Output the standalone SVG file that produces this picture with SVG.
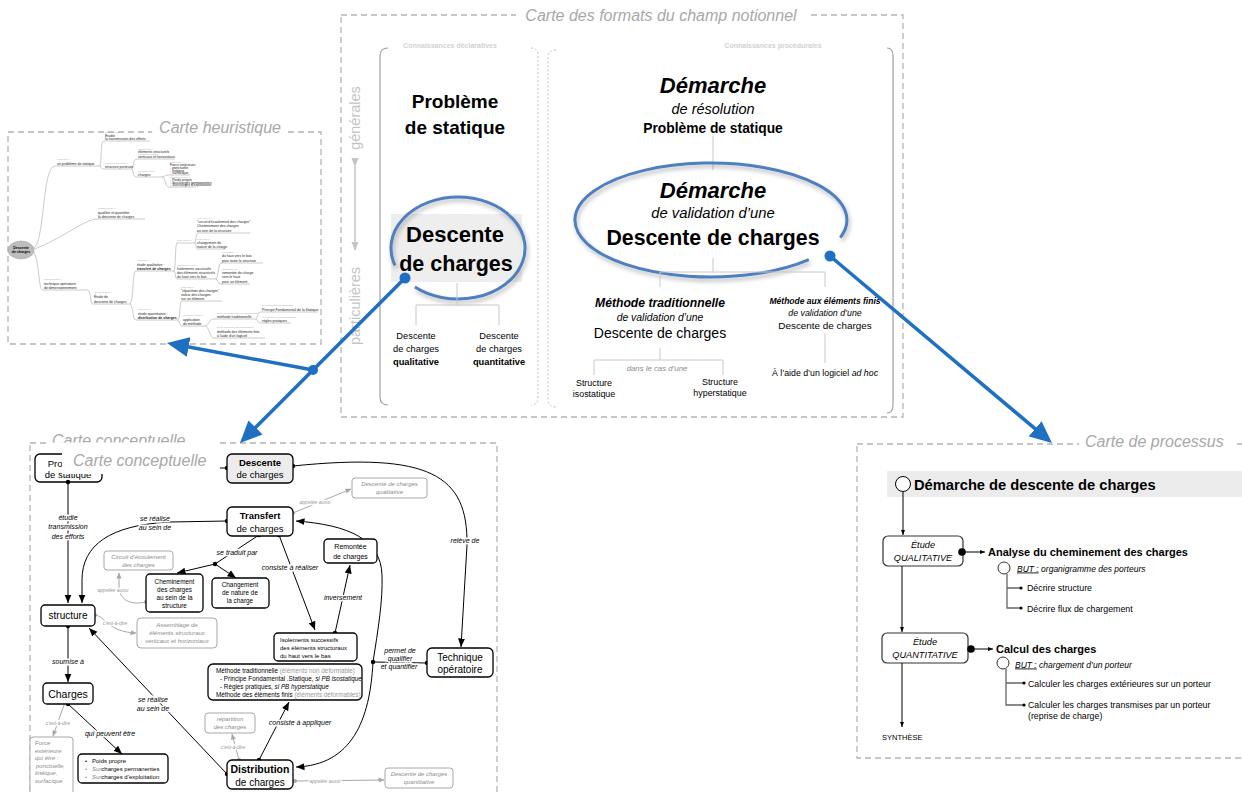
<svg xmlns="http://www.w3.org/2000/svg" width="1242" height="792" viewBox="0 0 1242 792">
<defs>
<style>
text{font-family:"Liberation Sans",Arial,sans-serif;}
.frame{fill:none;stroke:#b4b4b4;stroke-width:1.3;stroke-dasharray:6 4;}
.ftitle{font-style:italic;fill:#a8a8a8;font-size:16px;}
.c{text-anchor:middle;}
.b{font-weight:bold;}
.i{font-style:italic;}
.node{fill:#fff;stroke:#000;stroke-width:1.3;}
.gnode{fill:#fff;stroke:#a8a8a8;stroke-width:1;}
.gt{fill:#8c8c8c;font-style:italic;font-size:6px;}
.lbl{font-style:italic;font-size:7px;fill:#000;stroke:#fff;stroke-width:3;paint-order:stroke;stroke-linejoin:round;}
.glbl{font-style:italic;font-size:5px;fill:#9a9a9a;stroke:#fff;stroke-width:2.5;paint-order:stroke;stroke-linejoin:round;}
.conn{fill:none;stroke:#000;stroke-width:1;}
.gconn{fill:none;stroke:#a8a8a8;stroke-width:1;}
.tree{fill:none;stroke:#c8c8c8;stroke-width:1;}
.hm{font-size:3.5px;fill:#222;}
.hl{font-size:2.5px;fill:#aaa;}
.hline{fill:none;stroke:#a8a8a8;stroke-width:0.6;}
.blue{fill:none;stroke:#1F6FC2;stroke-width:3.5;}
.ptree{fill:none;stroke:#666;stroke-width:1.3;}
</style>
<marker id="arr" markerUnits="userSpaceOnUse" markerWidth="9" markerHeight="8" refX="8.5" refY="4" orient="auto" viewBox="0 0 9 8"><path d="M0,0.5 L8.5,4 L0,7.5z" fill="#000"/></marker>
<marker id="garr" markerUnits="userSpaceOnUse" markerWidth="6" markerHeight="6" refX="5.5" refY="3" orient="auto" viewBox="0 0 6 6"><path d="M0,0.5 L6,3 L0,5.5z" fill="#a8a8a8"/></marker>
<marker id="parr" markerUnits="userSpaceOnUse" markerWidth="5" markerHeight="5" refX="5" refY="2.5" orient="auto" viewBox="0 0 5 5"><path d="M0,0.5 L5,2.5 L0,4.5z" fill="#000"/></marker>
<marker id="varr" markerUnits="userSpaceOnUse" markerWidth="9" markerHeight="8" refX="8" refY="4" orient="auto" viewBox="0 0 9 8"><path d="M0,0.5 L9,4 L0,7.5z" fill="#c4c4c4"/></marker>
<marker id="barr" markerUnits="userSpaceOnUse" markerWidth="22" markerHeight="20" refX="16" refY="10" orient="auto" viewBox="0 0 22 20"><path d="M0,0 L22,10 L0,20z" fill="#1F6FC2"/></marker>
<filter id="sh" x="-20%" y="-20%" width="140%" height="160%"><feDropShadow dx="1.5" dy="3" stdDeviation="2.2" flood-color="#000" flood-opacity="0.28"/></filter>
<clipPath id="ct1"><rect x="0" y="420" width="320" height="22.5"/></clipPath>
</defs>
<rect width="1242" height="792" fill="#fff"/>

<!-- ============ CARTE DES FORMATS ============ -->
<g id="carte-formats">
<rect class="frame" x="341" y="15" width="562" height="402"/>
<rect x="516" y="4" width="292" height="22" fill="#fff"/>
<text class="ftitle c" x="661" y="21">Carte des formats du champ notionnel</text>

<g id="axe-vertical">
<text transform="translate(360,118) rotate(-90)" class="c" font-size="14.5" fill="#c4c4c4">générales</text>
<text transform="translate(360,306) rotate(-90)" class="c" font-size="14.5" fill="#c4c4c4">particulières</text>
<line x1="355" y1="166" x2="355" y2="250" stroke="#c4c4c4" stroke-width="1.5" marker-start="url(#varr)" marker-end="url(#varr)"/>
</g>

<g id="panel-declaratives">
<path d="M388,48 Q380,48 380,56 L380,397 Q380,405 388,405" fill="none" stroke="#a0a0a0" stroke-width="1.2"/>
<path d="M531,48 Q538,48 538,56 L538,397 Q538,405 531,405" fill="none" stroke="#c0c0c0" stroke-width="1" stroke-dasharray="2 2"/>
<text class="c b" x="450" y="48" font-size="7" fill="#d2d2d2">Connaissances déclaratives</text>
</g>

<g id="f-probleme">
<text class="c b" x="455" y="108" font-size="19">Problème</text>
<text class="c b" x="455" y="134" font-size="19">de statique</text>
</g>

<g id="f-descente">
<rect x="391" y="214" width="131" height="68" fill="#eeeeee"/>
<path d="M395,265.4 A67,51 0 1 1 414.9,287.1" fill="none" stroke="#4F7FBE" stroke-width="3" filter="url(#sh)"/>
<text class="c b" x="455" y="242" font-size="22">Descente</text>
<text class="c b" x="456" y="271" font-size="21.5">de charges</text>
<path class="tree" d="M457,283 V305 M416,325 V305 H499 V325"/>
</g>
<g id="f-qualitative">
<text class="c" x="416" y="339" font-size="9.3">Descente</text>
<text class="c" x="416" y="352" font-size="9.3">de charges</text>
<text class="c b" x="416" y="365" font-size="9.3">qualitative</text>
</g>
<g id="f-quantitative">
<text class="c" x="499" y="339" font-size="9.3">Descente</text>
<text class="c" x="499" y="352" font-size="9.3">de charges</text>
<text class="c b" x="499" y="365" font-size="9.3">quantitative</text>
</g>

<g id="panel-procedurales">
<path d="M556,50 Q548,50 548,58 L548,399 Q548,407 556,407" fill="none" stroke="#c0c0c0" stroke-width="1" stroke-dasharray="2 2"/>
<path d="M887,48 Q893,48 893,56 L893,405 Q893,413 887,413" fill="none" stroke="#a0a0a0" stroke-width="1.2"/>
<text class="c b" x="773" y="48" font-size="7" fill="#d2d2d2">Connaissances procédurales</text>
</g>

<g id="f-demarche-resolution">
<text class="c b i" x="713" y="93" font-size="22">Démarche</text>
<text class="c i" x="713" y="114" font-size="14.5">de résolution</text>
<text class="c b" x="713" y="133" font-size="13.8">Problème de statique</text>
<path class="tree" d="M713,136 V170"/>
</g>

<g id="f-demarche-validation">
<path d="M808.8,259.6 A136,57 0 1 1 840.3,237.6" fill="none" stroke="#4F7FBE" stroke-width="3" filter="url(#sh)"/>
<text class="c b i" x="713" y="198" font-size="22">Démarche</text>
<text class="c i" x="713" y="218" font-size="14.8">de validation d’une</text>
<text class="c b" x="713" y="245" font-size="21.3">Descente de charges</text>
<path class="tree" d="M713,258 V272 M660,287 V272 H825 V287"/>
</g>

<g id="f-methode-traditionnelle">
<text class="c b i" x="660" y="307" font-size="12.2">Méthode traditionnelle</text>
<text class="c i" x="660" y="321" font-size="10.4">de validation d’une</text>
<text class="c" x="660" y="338" font-size="14">Descente de charges</text>
<path class="tree" d="M660,348 V360 M594,375 V360 H723 V375"/>
<text class="c i" x="657" y="371" font-size="7.8" fill="#8c8c8c">dans le cas d’une</text>
</g>
<g id="f-isostatique">
<text class="c" x="594" y="386" font-size="8.9">Structure</text>
<text class="c" x="594" y="397" font-size="8.9">isostatique</text>
</g>
<g id="f-hyperstatique">
<text class="c" x="720" y="385" font-size="8.9">Structure</text>
<text class="c" x="720" y="396" font-size="8.9">hyperstatique</text>
</g>
<g id="f-methode-ef">
<text class="c b i" x="825" y="304" font-size="8.5">Méthode aux éléments finis</text>
<text class="c i" x="825" y="316" font-size="8.8">de validation d’une</text>
<text class="c" x="825" y="329" font-size="9.9">Descente de charges</text>
<path class="tree" d="M825,333 V363"/>
<text class="c" x="825" y="376" font-size="8.8">À l’aide d’un logiciel <tspan class="i">ad hoc</tspan></text>
</g>
</g>

<!-- ============ CARTE HEURISTIQUE ============ -->
<g id="carte-heuristique">
<rect class="frame" x="8" y="132" width="313" height="212"/>
<rect x="152" y="118" width="136" height="20" fill="#fff"/>
<text class="ftitle c" x="220" y="133">Carte heuristique</text>

<g id="h-branches">
<path class="hline" d="M34,248 C45,240 42,166 55,166 L100,166"/>
<path class="hline" d="M100,166 C102,160 100,141 104,141 L150,141"/>
<path class="hline" d="M100,166 C101,168 102,169 104,169 L132,169"/>
<path class="hline" d="M132,169 C134,165 133,159 137,159 L175,159"/>
<path class="hline" d="M132,169 C134,173 133,177 137,177 L162,177"/>
<path class="hline" d="M162,177 C166,176 165,175 169,175 L190,175"/>
<path class="hline" d="M162,177 C166,178 165,187 169,187 L196,187"/>
<path class="hline" d="M34,249 C60,240 85,219 97,219 L145,219"/>
<path class="hline" d="M34,252 C40,265 38,290 43,290 L88,290"/>
<path class="hline" d="M88,290 C91,292 90,304 93,304 L130,304"/>
<path class="hline" d="M130,304 C134,300 132,271 136,271 L174,271"/>
<path class="hline" d="M174,271 C176,268 175,243 177,243 L195,243"/>
<path class="hline" d="M195,243 C196,240 196,233 198,233 L250,233"/>
<path class="hline" d="M195,243 C196,245 196,249 198,249 L226,249"/>
<path class="hline" d="M174,271 C176,273 175,279 177,279 L216,279"/>
<path class="hline" d="M216,279 C219,276 218,263 221,263 L263,263"/>
<path class="hline" d="M216,279 C219,282 218,284 221,284 L250,284"/>
<path class="hline" d="M130,304 C134,308 132,320 136,320 L178,320"/>
<path class="hline" d="M178,320 C181,316 179,301 182,301 L222,301"/>
<path class="hline" d="M178,320 C180,322 180,326 182,326 L206,326"/>
<path class="hline" d="M206,326 C210,322 210,319 214,319 L256,319"/>
<path class="hline" d="M256,319 C258,316 258,312 261,312 L318,312"/>
<path class="hline" d="M256,319 C258,321 258,323 261,323 L291,323"/>
<path class="hline" d="M206,326 C210,330 210,338 214,338 L265,338"/>
</g>
<g id="h-centre">
<ellipse cx="21" cy="250" rx="13" ry="9" fill="#bdbdbd" stroke="#999" stroke-width="0.5"/>
<text class="c b" x="21" y="249" font-size="3.5">Descente</text>
<text class="c b" x="21" y="253" font-size="3.5">de charges</text>
</g>
<g id="h-textes">
<text class="hl" x="57" y="160">c'est quoi ?</text>
<text class="hm" x="57" y="165">un problème de statique</text>
<text class="hl" x="105" y="133">qui est étudié ?</text>
<text class="hm" x="105" y="136.5">Etudie</text>
<text class="hm" x="105" y="140.3">la transmission des efforts</text>
<text class="hl" x="105" y="164">qu'est-ce qui porte ?</text>
<text class="hm" x="105" y="168">structure porteuse</text>
<text class="hl" x="138" y="149.5">qui sont-ils ?</text>
<text class="hm" x="138" y="152.7">éléments structurels</text>
<text class="hl" x="138" y="155.3">qui sont-ils aussi ?</text>
<text class="hm" x="138" y="158.3">verticaux et horizontaux</text>
<text class="hl" x="138" y="172">qui sont-elles ?</text>
<text class="hm" x="138" y="176">charges</text>
<text class="hl" x="170" y="163">lesquelles ?</text>
<text class="hm" x="170" y="166" font-size="2.8">Force extérieure</text>
<text class="hm" x="170" y="168.8" font-size="2.8">- ponctuelle</text>
<text class="hm" x="170" y="171.6" font-size="2.8">- linéique</text>
<text class="hm" x="170" y="174.4" font-size="2.8">- surfacique</text>
<text class="hl" x="170" y="178">qui peuvent être ?</text>
<text class="hm" x="170" y="181" font-size="2.8">- Poids propre</text>
<text class="hm" x="170" y="183.7" font-size="2.8">- Surcharges permanentes</text>
<text class="hm" x="170" y="186.4" font-size="2.8">- Surcharges d'exploitation</text>
<text class="hl" x="98" y="209">pourquoi faire ?</text>
<text class="hm" x="98" y="213.5">qualifier et quantifier</text>
<text class="hm" x="98" y="218">la descente de charges</text>
<text class="hl" x="44" y="280">comment faire ?</text>
<text class="hm" x="44" y="284.5">technique opératoire</text>
<text class="hm" x="44" y="289">de dimensionnement</text>
<text class="hl" x="94" y="293">comment faire ?</text>
<text class="hm" x="94" y="298">Étude de</text>
<text class="hm" x="94" y="302.5">descente de charges</text>
<text class="hl" x="137" y="261">c'est quoi ?</text>
<text class="hm" x="137" y="265.5">étude qualitative :</text>
<text class="hm b" x="137" y="270">transfert de charges</text>
<text class="hl" x="177" y="241">c'est-à-dire ?</text>
<text class="hl" x="197" y="219">c'est quoi ?</text>
<text class="hm" x="197" y="223">"circuit d'écoulement des charges"</text>
<text class="hm" x="197" y="227.2">Cheminement des charges</text>
<text class="hm" x="197" y="231.5">au sein de la structure</text>
<text class="hl" x="197" y="239.5">c'est quoi ?</text>
<text class="hm" x="197" y="244">changement de</text>
<text class="hm" x="197" y="248">nature de la charge</text>
<text class="hl" x="177" y="266">comment le faire ?</text>
<text class="hm" x="177" y="269.7">Isolements successifs</text>
<text class="hm" x="177" y="273.7">des éléments structurels</text>
<text class="hm" x="177" y="278">du haut vers le bas</text>
<text class="hl" x="222" y="253">en général</text>
<text class="hm" x="222" y="257">du haut vers le bas</text>
<text class="hm" x="222" y="261.5">pour toute la structure</text>
<text class="hl" x="222" y="270">cas particulier</text>
<text class="hm" x="222" y="274">remontée de charge</text>
<text class="hm" x="222" y="278">vers le haut</text>
<text class="hm" x="222" y="282.5">pour un élément</text>
<text class="hl" x="138" y="310">c'est quoi ?</text>
<text class="hm" x="138" y="314.5">étude quantitative :</text>
<text class="hm b" x="138" y="319">distribution de charges</text>
<text class="hl" x="181" y="288">c'est quoi ?</text>
<text class="hm" x="181" y="292">"répartition des charges"</text>
<text class="hm" x="181" y="296">valeur des charges</text>
<text class="hm" x="181" y="300">sur un élément</text>
<text class="hl" x="183" y="316">comment le faire ?</text>
<text class="hm" x="183" y="320.5">application</text>
<text class="hm" x="183" y="325">de méthode</text>
<text class="hl" x="217" y="314">si les éléments sont non déformables</text>
<text class="hm" x="217" y="318">méthode traditionnelle</text>
<text class="hl" x="262" y="306">si la structure est isostatique</text>
<text class="hm" x="262" y="310.5">Principe Fondamental de la Statique</text>
<text class="hl" x="262" y="317.5">si la structure est hyperstatique</text>
<text class="hm" x="262" y="322">règles pratiques</text>
<text class="hl" x="217" y="328">si les éléments sont déformables</text>
<text class="hm" x="217" y="332.5">méthode des éléments finis</text>
<text class="hm" x="217" y="337">à l'aide d'un logiciel</text>
</g>
</g>

<!-- ============ CARTE CONCEPTUELLE ============ -->
<g id="carte-conceptuelle">
<rect class="frame" x="30" y="443" width="467" height="352"/>
<rect x="47" y="425" width="172" height="20" fill="#fff"/>
<text class="ftitle" x="52" y="446" clip-path="url(#ct1)">Carte conceptuelle</text>
</g>

<g id="c-probleme">
<rect class="node" x="35" y="454" width="67" height="28" rx="5"/>
<text class="c" x="68" y="467" font-size="9.5">Problème</text>
<text class="c" x="68" y="478" font-size="9.5">de statique</text>
</g>
<g id="c-titre">
<rect x="62" y="449" width="146" height="25" fill="#fff"/>
<text class="ftitle" x="73" y="466">Carte conceptuelle</text>
</g>

<g id="concept-connectors">
<!-- Problème -> structure -->
<path class="conn" d="M68,482 V603" marker-end="url(#arr)"/>
<!-- Transfert -> structure -->
<path class="conn" d="M227,521 L170,522 C110,525 82,545 82,580 L82,603" marker-end="url(#arr)"/>
<!-- Transfert -> jonction -->
<path class="conn" d="M259,535 L215,564"/>
<path class="conn" d="M215,564 L177,573" marker-end="url(#arr)"/>
<path class="conn" d="M215,564 L236,578" marker-end="url(#arr)"/>
<!-- Transfert -> Isolements -->
<path class="conn" d="M279,535 L315,630" marker-end="url(#arr)"/>
<!-- Isolements -> Remontée -->
<path class="conn" d="M335,633 L350,565" marker-end="url(#arr)"/>
<!-- Descente -> Technique -->
<path class="conn" d="M227,468 H220"/>
<path class="conn" d="M293,466 C430,452 468,475 467,545 L461,647" marker-end="url(#arr)"/>
<!-- Distribution <-> Transfert -->
<path class="conn" d="M373,662 C378,630 383,600 382,575 C381,540 350,525 296,521" marker-end="url(#arr)"/>
<path class="conn" d="M373,662 C370,720 352,765 296,767" marker-end="url(#arr)"/>
<path class="conn" d="M373,662 L427,663"/>
<!-- structure -> Charges -->
<path class="conn" d="M68,626 V682" marker-end="url(#arr)"/>
<!-- Charges -> Poids -->
<path class="conn" d="M68,704 L122,754" marker-end="url(#arr)"/>
<!-- Distribution -> structure -->
<path class="conn" d="M227,774 L89,628" marker-end="url(#arr)"/>
<!-- Distribution -> Méthode -->
<path class="conn" d="M259,760 L289,702" marker-end="url(#arr)"/>
<!-- grey -->
<path class="gconn" d="M293,513 L351,489" marker-end="url(#garr)"/>
<path class="gconn" d="M146,602 C128,606 119,598 119,586 L119,573" marker-end="url(#garr)"/>
<path class="gconn" d="M95,615 C105,616 108,632 136,633" marker-end="url(#garr)"/>
<path class="gconn" d="M64,705 L53,736" marker-end="url(#garr)"/>
<path class="gconn" d="M239,760 L232,734" marker-end="url(#garr)"/>
<path class="gconn" d="M295,781 L384,780" marker-end="url(#garr)"/>
<!-- dots -->
<g fill="#000">
<circle cx="68" cy="482" r="2.2"/><circle cx="227" cy="521" r="2.2"/><circle cx="259" cy="535" r="2.2"/>
<circle cx="215" cy="564" r="2.2"/><circle cx="279" cy="535" r="2.2"/><circle cx="335" cy="633" r="2.2"/>
<circle cx="227" cy="468" r="2.2"/><circle cx="293" cy="466" r="2.2"/><circle cx="373" cy="662" r="2.2"/>
<circle cx="427" cy="663" r="2.2"/><circle cx="68" cy="626" r="2.2"/><circle cx="68" cy="704" r="2.2"/>
<circle cx="227" cy="774" r="2.2"/><circle cx="259" cy="760" r="2.2"/>
</g>
<g fill="#a8a8a8">
<circle cx="293" cy="513" r="2"/><circle cx="146" cy="602" r="2"/><circle cx="95" cy="615" r="2"/>
<circle cx="239" cy="760" r="2"/><circle cx="295" cy="781" r="2"/>
</g>
<!-- labels -->
<text class="lbl c" x="68" y="520">étudie</text>
<text class="lbl c" x="68" y="529">transmission</text>
<text class="lbl c" x="68" y="538.5">des efforts</text>
<text class="lbl c" x="155" y="520.5">se réalise</text>
<text class="lbl c" x="155" y="529.5">au sein de</text>
<text class="lbl c" x="237" y="555">se traduit par</text>
<text class="lbl c" x="290" y="569.5">consiste à  réaliser</text>
<text class="lbl c" x="343" y="599.5">inversement</text>
<text class="lbl c" x="465" y="542.5">relève de</text>
<text class="lbl c" x="400" y="652.5">permet de</text>
<text class="lbl c" x="400" y="660.5">qualifier</text>
<text class="lbl c" x="399" y="668.5">et quantifier</text>
<text class="lbl c" x="68" y="663.5">soumise à</text>
<text class="lbl c" x="153" y="701.5">se réalise</text>
<text class="lbl c" x="153" y="710.5">au sein de</text>
<text class="lbl c" x="110" y="735.5">qui peuvent être</text>
<text class="lbl c" x="300" y="724.5">consiste à appliquer</text>
<text class="glbl c" x="315" y="503.5">appelée aussi</text>
<text class="glbl c" x="113" y="592">appelée aussi</text>
<text class="glbl c" x="115" y="624.5">c'est-à-dire</text>
<text class="glbl c" x="58" y="724.5">c'est-à-dire</text>
<text class="glbl c" x="233" y="748.5">c'est-à-dire</text>
<text class="glbl c" x="325" y="782.5">appelée aussi</text>
</g>

<g id="c-descente">
<rect class="node" x="227" y="454" width="66" height="29" rx="5" fill="#ececec" style="fill:#ececec" stroke-width="1.5"/>
<text class="c b" x="260" y="465.5" font-size="9.5">Descente</text>
<text class="c" x="260" y="478" font-size="9.5">de charges</text>
</g>
<g id="c-qualitative">
<rect class="gnode" x="352" y="478" width="75" height="20" rx="3"/>
<text class="gt c" x="389.5" y="486">Descente de charges</text>
<text class="gt c" x="389.5" y="494">qualitative</text>
</g>
<g id="c-transfert">
<rect class="node" x="227" y="507" width="66" height="29" rx="5" stroke-width="1.5"/>
<text class="c b" x="260" y="519" font-size="9.5">Transfert</text>
<text class="c" x="260" y="531.5" font-size="9.5">de charges</text>
</g>
<g id="c-remontee">
<rect class="node" x="324" y="539" width="53" height="24" rx="4" stroke-width="1"/>
<text class="c" x="350.5" y="549" font-size="7">Remontée</text>
<text class="c" x="350.5" y="558.5" font-size="7">de charges</text>
</g>
<g id="c-circuit">
<rect class="gnode" x="104" y="551" width="69" height="19" rx="3"/>
<text class="gt c" x="138.5" y="559">Circuit d’écoulement</text>
<text class="gt c" x="138.5" y="567">des charges</text>
</g>
<g id="c-cheminement">
<rect class="node" x="146" y="574" width="57" height="38" rx="4" stroke-width="1"/>
<text class="c" x="174.5" y="583.5" font-size="6.4">Cheminement</text>
<text class="c" x="174.5" y="591.5" font-size="6.4">des charges</text>
<text class="c" x="174.5" y="599.5" font-size="6.4">au sein de  la</text>
<text class="c" x="174.5" y="607.5" font-size="6.4">structure</text>
</g>
<g id="c-changement">
<rect class="node" x="212" y="578" width="57" height="30" rx="4" stroke-width="1"/>
<text class="c" x="240" y="587" font-size="6.4">Changement</text>
<text class="c" x="240" y="595" font-size="6.4">de nature  de</text>
<text class="c" x="240" y="603" font-size="6.4">la charge</text>
</g>
<g id="c-structure">
<rect class="node" x="41" y="605" width="54" height="21" rx="4"/>
<text class="c" x="68" y="619" font-size="10">structure</text>
</g>
<g id="c-assemblage">
<rect class="gnode" x="137" y="618" width="80" height="30" rx="4"/>
<text class="gt c" x="177" y="627">Assemblage de</text>
<text class="gt c" x="177" y="635">éléments structuraux</text>
<text class="gt c" x="177" y="643">verticaux et horizontaux</text>
</g>
<g id="c-charges">
<rect class="node" x="43" y="683" width="50" height="21" rx="4"/>
<text class="c" x="68" y="697.5" font-size="10.5">Charges</text>
</g>
<g id="c-force">
<rect class="gnode" x="30" y="737" width="43" height="58" rx="3"/>
<text class="gt" x="35" y="745" font-size="5.6">Force</text>
<text class="gt" x="35" y="752.5" font-size="5.6">extérieure</text>
<text class="gt" x="35" y="760" font-size="5.6">qui être :</text>
<text class="gt" x="36" y="767.5" font-size="5.6">ponctuelle,</text>
<text class="gt" x="35" y="775" font-size="5.6">linéique,</text>
<text class="gt" x="35" y="782.5" font-size="5.6">surfacique</text>
</g>
<g id="c-poids">
<rect class="node" x="78" y="754" width="90" height="29" rx="4" stroke-width="1"/>
<text x="85" y="763" font-size="6">•</text>
<text x="92" y="763" font-size="6">Poids propre</text>
<text x="85" y="771" font-size="6" fill="#999">•</text>
<text x="92" y="771" font-size="6"><tspan class="i" fill="#888">Sur</tspan>charges permanentes</text>
<text x="85" y="779" font-size="6" fill="#999">•</text>
<text x="92" y="779" font-size="6"><tspan class="i" fill="#888">Sur</tspan>charges d’exploitation</text>
</g>
<g id="c-isolements">
<rect class="node" x="274" y="633" width="83" height="28" rx="4"/>
<text x="280" y="642" font-size="6">Isolements successifs</text>
<text x="280" y="650" font-size="6">des éléments structuraux</text>
<text x="280" y="658" font-size="6">du haut vers le bas</text>
</g>
<g id="c-methode">
<rect class="node" x="208" y="664" width="154" height="36" rx="5"/>
<text x="216" y="673" font-size="6.3">Méthode traditionnelle  <tspan fill="#999">(éléments non déformable)</tspan></text>
<text x="220" y="681" font-size="6.3">- Principe Fondamental .Statique,  <tspan class="i">si PB isostatique</tspan></text>
<text x="220" y="689" font-size="6.3">- Règles pratiques, <tspan class="i">si PB  hyperstatique</tspan></text>
<text x="216" y="697" font-size="6.3">Méthode des éléments finis <tspan fill="#999">(éléments déformables)</tspan></text>
</g>
<g id="c-technique">
<rect class="node" x="427" y="648" width="66" height="29" rx="5"/>
<text class="c" x="460" y="660.5" font-size="10">Technique</text>
<text class="c" x="460" y="673" font-size="10">opératoire</text>
</g>
<g id="c-repartition">
<rect class="gnode" x="205" y="713" width="50" height="20" rx="3"/>
<text class="gt c" x="230" y="721">répartition</text>
<text class="gt c" x="230" y="729">des charges</text>
</g>
<g id="c-distribution">
<rect class="node" x="227" y="760" width="66" height="29" rx="5" stroke-width="2"/>
<text class="c b" x="260" y="773" font-size="10.5">Distribution</text>
<text class="c" x="260" y="785.5" font-size="10">de charges</text>
</g>
<g id="c-quantitative">
<rect class="gnode" x="385" y="768" width="68" height="20" rx="3"/>
<text class="gt c" x="419" y="776">Descente de charges</text>
<text class="gt c" x="419" y="784">quantitative</text>
</g>

<!-- ============ CARTE DE PROCESSUS ============ -->
<g id="carte-processus">
<rect class="frame" x="857" y="444" width="400" height="314"/>
<rect x="1079" y="430" width="156" height="20" fill="#fff"/>
<text class="ftitle" x="1085" y="447">Carte de processus</text>
</g>
<g id="p-demarche">
<rect x="887" y="471" width="355" height="26" fill="#ececec"/>
<circle cx="903" cy="484" r="7.5" fill="#fff" stroke="#000" stroke-width="1"/>
<text class="b" x="914" y="489.5" font-size="14.7">Démarche de descente de charges</text>
</g>
<g id="p-qualitative">
<rect x="883" y="536" width="80" height="30" rx="5" fill="#fff" stroke="#333" stroke-width="1.2"/>
<text class="c i" x="923" y="547.5" font-size="9.2">Étude</text>
<text class="c i" x="923" y="561" font-size="9.2">QUALITATIVE</text>
</g>
<g id="p-analyse">
<text class="b" x="988" y="556" font-size="11">Analyse du cheminement des charges</text>
<circle cx="1004" cy="568" r="6" fill="#fff" stroke="#333" stroke-width="1"/>
<text class="i" x="1017" y="571.5" font-size="8.5"><tspan text-decoration="underline">BUT :</tspan> organigramme des porteurs</text>
<path class="ptree" d="M1007,574 V608 H1021 M1007,588 H1021"/>
<circle cx="1021" cy="588" r="1.6"/><circle cx="1021" cy="608" r="1.6"/>
<text x="1027" y="591" font-size="8.8">Décrire structure</text>
<text x="1027" y="611.5" font-size="8.8">Décrire flux de chargement</text>
</g>
<g id="p-quantitative">
<rect x="882" y="633" width="86" height="30" rx="5" fill="#fff" stroke="#333" stroke-width="1.2"/>
<text class="c i" x="925" y="644.5" font-size="9.2">Étude</text>
<text class="c i" x="925" y="658" font-size="9.2">QUANTITATIVE</text>
</g>
<g id="p-calcul">
<text class="b" x="996" y="653" font-size="11">Calcul des charges</text>
<circle cx="1003" cy="663" r="6" fill="#fff" stroke="#333" stroke-width="1"/>
<text class="i" x="1015" y="667.5" font-size="8.5"><tspan text-decoration="underline">BUT :</tspan> chargement d’un porteur</text>
<path class="ptree" d="M1006,669 V705 H1024 M1006,683 H1024"/>
<circle cx="1024" cy="683" r="1.6"/><circle cx="1024" cy="705" r="1.6"/>
<text x="1028" y="686.5" font-size="8.8">Calculer les charges extérieures sur un porteur</text>
<text x="1028" y="707.5" font-size="8.8">Calculer les charges transmises par un porteur</text>
<text x="1028" y="719" font-size="8.8">(reprise de charge)</text>
</g>
<g id="p-synthese">
<text x="882" y="740" font-size="7.5">SYNTHÈSE</text>
</g>
<g id="process-connectors">
<path class="conn" d="M903,492 V535" marker-end="url(#parr)"/>
<path class="conn" d="M902,566 V632" marker-end="url(#parr)"/>
<path class="conn" d="M902,663 V727" marker-end="url(#parr)"/>
<path class="conn" d="M962,552 H985" marker-end="url(#parr)"/>
<path class="conn" d="M971,649 H993" marker-end="url(#parr)"/>
<circle cx="962" cy="552" r="3.8"/>
<circle cx="971" cy="649" r="3.8"/>
</g>

<!-- ============ BLUE CONNECTORS ============ -->
<g id="blue-connectors">
<path class="blue" d="M405,278 L244.2,438.8" marker-end="url(#barr)"/>
<path class="blue" d="M313,370 L172.9,344" marker-end="url(#barr)"/>
<path class="blue" d="M830,256 L1047.4,439.1" marker-end="url(#barr)"/>
<g fill="#1F6FC2">
<circle cx="405" cy="278" r="5.5"/>
<circle cx="313" cy="370" r="5"/>
<circle cx="830" cy="256" r="5.5"/>
</g>
</g>
</svg>
